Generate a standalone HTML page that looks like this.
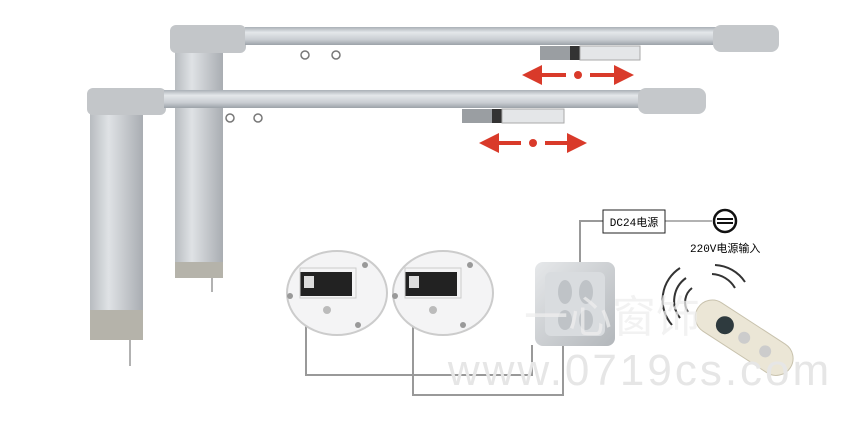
<!DOCTYPE html>
<html><head><meta charset="utf-8"><style>
html,body{margin:0;padding:0;background:#fff;width:842px;height:443px;overflow:hidden}
</style></head><body>
<svg width="842" height="443" viewBox="0 0 842 443" xmlns="http://www.w3.org/2000/svg">
<defs>
<linearGradient id="col" x1="0" x2="1"><stop offset="0" stop-color="#b8bcc0"/><stop offset="0.35" stop-color="#dfe2e5"/><stop offset="1" stop-color="#a9adb2"/></linearGradient>
<linearGradient id="rail" x1="0" y1="0" x2="0" y2="1"><stop offset="0" stop-color="#aab0b6"/><stop offset="0.3" stop-color="#e4e7ea"/><stop offset="0.7" stop-color="#c9cdd2"/><stop offset="1" stop-color="#9ca2a8"/></linearGradient>
<linearGradient id="sw" x1="0" y1="0" x2="1" y2="1"><stop offset="0" stop-color="#e6e8ea"/><stop offset="1" stop-color="#b3b7bb"/></linearGradient>
<marker id="ah" markerWidth="5" markerHeight="5" refX="2.5" refY="2.5" orient="auto"><path d="M0,0L5,2.5L0,5z" fill="#d93a2a"/></marker>
</defs>
<rect x="175" y="48" width="48" height="230" fill="url(#col)"/>
<rect x="175" y="262" width="48" height="16" fill="#b5b3aa"/>
<line x1="212" y1="278" x2="212" y2="292" stroke="#666"/>
<rect x="170" y="25" width="76" height="28" rx="6" fill="#c3c6c9"/>
<rect x="245" y="27" width="472" height="18" fill="url(#rail)"/>
<rect x="713" y="25" width="66" height="27" rx="8" fill="#c5c8cb"/>
<circle cx="305" cy="55" r="4" fill="none" stroke="#777" stroke-width="1.5"/>
<circle cx="336" cy="55" r="4" fill="none" stroke="#777" stroke-width="1.5"/>
<rect x="540" y="46" width="30" height="14" fill="#9a9ea2"/>
<rect x="570" y="46" width="10" height="14" fill="#333"/>
<rect x="580" y="46" width="60" height="14" fill="#e4e6e8" stroke="#aaa"/>
<line x1="566" y1="75" x2="532" y2="75" stroke="#d93a2a" stroke-width="4" marker-end="url(#ah)"/>
<line x1="590" y1="75" x2="624" y2="75" stroke="#d93a2a" stroke-width="4" marker-end="url(#ah)"/>
<circle cx="578" cy="75" r="4" fill="#d93a2a"/>
<rect x="90" y="108" width="53" height="232" fill="url(#col)"/>
<rect x="90" y="310" width="53" height="30" fill="#b5b3aa"/>
<line x1="130" y1="340" x2="130" y2="366" stroke="#666"/>
<rect x="87" y="88" width="79" height="27" rx="6" fill="#c3c6c9"/>
<rect x="164" y="90" width="478" height="18" fill="url(#rail)"/>
<rect x="638" y="88" width="68" height="26" rx="8" fill="#c5c8cb"/>
<circle cx="230" cy="118" r="4" fill="none" stroke="#777" stroke-width="1.5"/>
<circle cx="258" cy="118" r="4" fill="none" stroke="#777" stroke-width="1.5"/>
<rect x="462" y="109" width="30" height="14" fill="#9a9ea2"/>
<rect x="492" y="109" width="10" height="14" fill="#333"/>
<rect x="502" y="109" width="62" height="14" fill="#e4e6e8" stroke="#aaa"/>
<line x1="521" y1="143" x2="489" y2="143" stroke="#d93a2a" stroke-width="4" marker-end="url(#ah)"/>
<line x1="545" y1="143" x2="577" y2="143" stroke="#d93a2a" stroke-width="4" marker-end="url(#ah)"/>
<circle cx="533" cy="143" r="4" fill="#d93a2a"/>
<polyline points="306,290 306,375 532,375 532,345" fill="none" stroke="#999" stroke-width="2"/>
<polyline points="413,290 413,395 563,395 563,345" fill="none" stroke="#999" stroke-width="2"/>
<polyline points="603,221 580,221 580,263" fill="none" stroke="#999" stroke-width="2"/>
<line x1="665" y1="221" x2="712" y2="221" stroke="#999" stroke-width="1.5"/>
<rect x="603" y="210" width="62" height="23" fill="#fff" stroke="#222"/>
<text x="634" y="226" text-anchor="middle" font-family="Liberation Mono, Noto Sans CJK SC, monospace" font-size="11">DC24电源</text>
<circle cx="725" cy="221" r="11" fill="#fff" stroke="#111" stroke-width="2.5"/>
<rect x="717" y="218" width="16" height="2" fill="#111"/><rect x="717" y="222" width="16" height="2" fill="#111"/>
<text x="690" y="252" font-family="Liberation Mono, Noto Sans CJK SC, monospace" font-size="11">220V电源输入</text>
<ellipse cx="337" cy="293" rx="50" ry="42" fill="#f4f4f5" stroke="#ccc" stroke-width="2"/>
<rect x="300" y="272" width="52" height="24" fill="#222"/><rect x="304" y="276" width="10" height="12" fill="#ddd"/>
<rect x="300" y="268" width="56" height="30" fill="none" stroke="#ccc"/>
<circle cx="327" cy="310" r="4" fill="#bbb"/><circle cx="290" cy="296" r="3" fill="#999"/><circle cx="365" cy="265" r="3" fill="#999"/><circle cx="358" cy="325" r="3" fill="#999"/>
<ellipse cx="443" cy="293" rx="50" ry="42" fill="#f4f4f5" stroke="#ccc" stroke-width="2"/>
<rect x="405" y="272" width="52" height="24" fill="#222"/><rect x="409" y="276" width="10" height="12" fill="#ddd"/>
<rect x="405" y="268" width="56" height="30" fill="none" stroke="#ccc"/>
<circle cx="433" cy="310" r="4" fill="#bbb"/><circle cx="395" cy="296" r="3" fill="#999"/><circle cx="470" cy="265" r="3" fill="#999"/><circle cx="463" cy="325" r="3" fill="#999"/>
<rect x="535" y="262" width="80" height="84" rx="8" fill="url(#sw)"/>
<rect x="545" y="272" width="60" height="64" rx="6" fill="#d9dcdf"/>
<ellipse cx="565" cy="292" rx="7" ry="12" fill="#bfc3c7"/><ellipse cx="586" cy="292" rx="7" ry="12" fill="#bfc3c7"/>
<ellipse cx="565" cy="320" rx="7" ry="10" fill="#bfc3c7"/><ellipse cx="586" cy="320" rx="7" ry="10" fill="#bfc3c7"/>
<g fill="none" stroke="#333" stroke-width="2">
<path d="M672,325 A38,38 0 0 1 680,268"/><path d="M680,318 A28,28 0 0 1 686,278"/><path d="M688,312 A18,18 0 0 1 692,288"/>
<path d="M715,265 A38,38 0 0 1 745,282"/><path d="M712,274 A28,28 0 0 1 735,288"/>
</g>
<g transform="rotate(33 740 335)"><rect x="690" y="318" width="110" height="34" rx="17" fill="#ebe6d6" stroke="#c8c2ad"/>
<circle cx="722" cy="335" r="9" fill="#2e3a3e"/><circle cx="745" cy="335" r="6" fill="#ccc"/><circle cx="770" cy="335" r="6" fill="#ccc"/></g>
<text x="640" y="385" text-anchor="middle" font-family="Liberation Sans, sans-serif" font-size="44" fill="#e6e6e6" letter-spacing="3">www.0719cs.com</text>
<text x="612" y="332" text-anchor="middle" font-family="Liberation Sans, Noto Sans CJK SC, sans-serif" font-size="44" fill="#eeeeee" fill-opacity="0.75">一心窗饰</text>
</svg>
</body></html>
